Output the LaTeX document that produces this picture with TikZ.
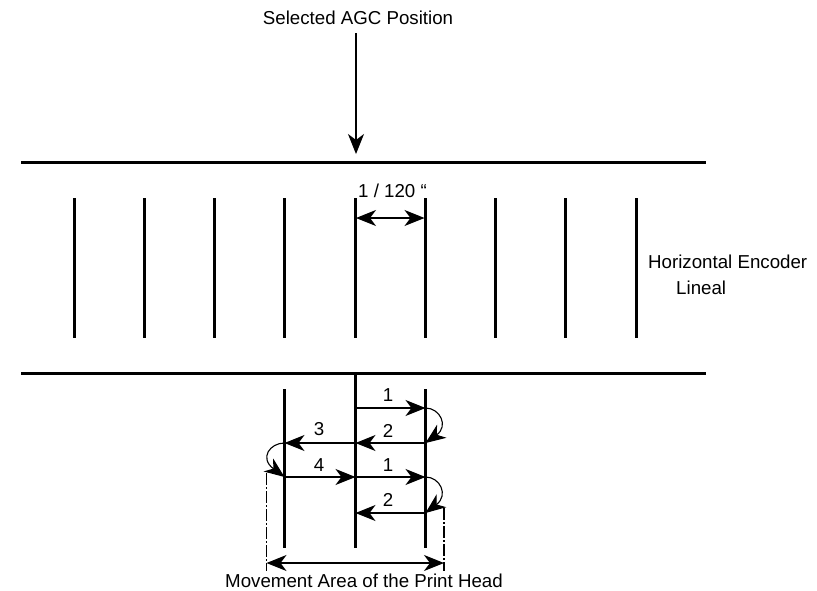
\documentclass[tikz,border=0pt]{standalone}
\usepackage{fontspec}
\setmainfont{Liberation Sans}
\usetikzlibrary{arrows.meta,positioning}
\tikzset{
  rail/.style={line width=3pt},
  mark line/.style={line width=2.6pt},
  flow/.style={line width=1.1pt,-{Stealth[length=20pt,width=16pt,inset=6pt]}},
  both flow/.style={line width=1.1pt,{Stealth[length=20pt,width=16pt,inset=6pt]}-{Stealth[length=20pt,width=16pt,inset=6pt]}},
  limit/.style={line width=1.8pt,dash pattern=on 12pt off 2pt on 2pt off 2pt},
  lab/.style={inner sep=0pt}
}
\begin{document}
\begin{tikzpicture}[x=1pt,y=-1pt,>=Latex,font=\fontsize{18.7pt}{22pt}\selectfont]
  \useasboundingbox (0,0) rectangle (817,590);
  % encoder rails
  \coordinate (railAw) at (21,162.3);
  \coordinate (railAe) at (706,162.3);
  \coordinate (railBw) at (21,373);
  \coordinate (railBe) at (706,373);
  \draw[rail] (railAw) -- (railAe);
  \draw[rail] (railBw) -- (railBe);
  % lineal marks
  \foreach \n/\xx in {1/74.4,2/144.4,3/214.4,4/284.4,5/355.4,6/425.4,7/495.4,8/565.4,9/636.4}
  {
    \coordinate (mt\n) at (\xx,198);
    \coordinate (mb\n) at (\xx,338);
    \draw[mark line] (mt\n) -- (mb\n);
  }
  \coordinate (pa) at (356,218);
  \coordinate (pb) at (424.5,218);
  \draw[both flow] (pa) -- (pb);
  \node[lab] (pitch) at (392.5,191) {1 / 120 “};
  % selected position
  \node[lab] (agc) at (358,17.5) {Selected AGC Position};
  \coordinate (agctop) at (356,33);
  \coordinate (agctip) at (356,154);
  \draw[flow] (agctop) -- (agctip);
  \node[lab,align=left,anchor=west] (hor) at (648,262) {Horizontal Encoder};
  \node[lab,anchor=west] (lin) at (676,288) {Lineal};
  % head guides
  \coordinate (gl) at (284.5,389);
  \coordinate (gle) at (284.5,548);
  \coordinate (gc) at (355.5,373);
  \coordinate (gce) at (355.5,548);
  \coordinate (gr) at (425.5,389);
  \coordinate (gre) at (425.5,548);
  \draw[mark line] (gl) -- (gle);
  \draw[mark line] (gc) -- (gce);
  \draw[mark line] (gr) -- (gre);
  % steps
  \foreach \r/\yy in {a/408,b/443,c/477,d/513}
  {
    \coordinate (l\r) at (284.5,\yy);
    \coordinate (c\r) at (355.5,\yy);
    \coordinate (r\r) at (425.5,\yy);
  }
  \draw[flow] (ca) -- (ra);
  \draw[flow] (rb) -- (cb);
  \draw[flow] (cb) -- (lb);
  \draw[flow] (lc) -- (cc);
  \draw[flow] (cc) -- (rc);
  \draw[flow] (rd) -- (cd);
  \draw[flow] (ra) .. controls (440,408) and (449,426) .. (rb);
  \draw[flow] (lb) .. controls (270,443) and (259,458) .. (lc);
  \draw[flow] (rc) .. controls (440,477) and (449,495) .. (rd);
  \node[lab] (s1) at (388,395) {1};
  \node[lab] (s2) at (388,431) {2};
  \node[lab] (s3) at (319,429) {3};
  \node[lab] (s4) at (319,465) {4};
  \node[lab] (s5) at (388,465) {1};
  \node[lab] (s6) at (388,500) {2};
  % movement area
  \coordinate (al) at (266.5,473);
  \coordinate (ale) at (266.5,571);
  \coordinate (ar) at (444,508);
  \coordinate (are) at (444,571);
  \draw[limit] (al) -- (ale);
  \draw[limit] (ar) -- (are);
  \coordinate (dl) at (266.5,563);
  \coordinate (dr) at (444,563);
  \draw[both flow] (dl) -- (dr);
  \node[lab] (area) at (364,581) {Movement Area of the Print Head};
\end{tikzpicture}
\end{document}
